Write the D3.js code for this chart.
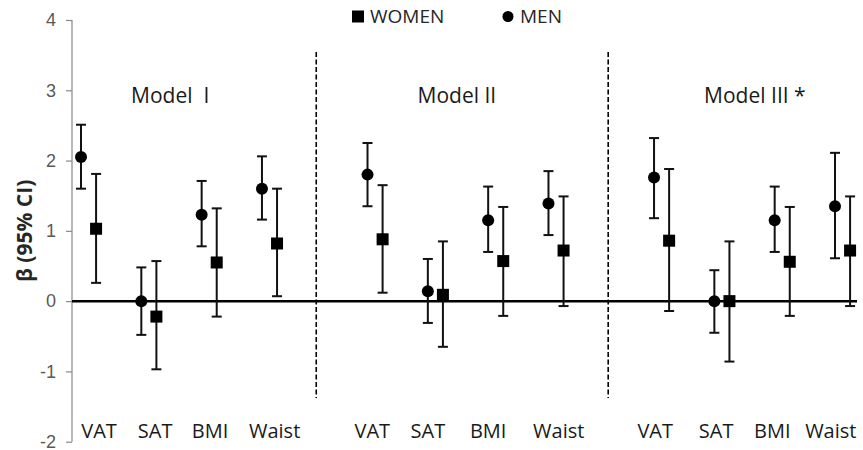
<!DOCTYPE html>
<html>
<head>
<meta charset="utf-8">
<script src="https://cdn.jsdelivr.net/npm/d3@7"></script>
<style>
    body { margin: 0; background: #fff; }
    svg { display: block; font-family: "Open Sans", sans-serif; }
    text { white-space: pre; }
</style>
</head>
<body>
<div id="chart"></div>
<script>
/* Beta (95% CI) by model, men vs women */

var models = ["Model  I", "Model II", "Model III *"];
var categories = ["VAT", "SAT", "BMI", "Waist"];
var yTicks = [-2, -1, 0, 1, 2, 3, 4];

// one value per model x category (Model I, Model II, Model III)
var menBeta = [2.05, 0.00, 1.23, 1.60, 1.80, 0.14, 1.15, 1.39, 1.76, 0.00, 1.15, 1.35];
var menLow = [1.60, -0.48, 0.78, 1.16, 1.35, -0.31, 0.70, 0.94, 1.18, -0.45, 0.70, 0.61];
var menHigh = [2.51, 0.48, 1.71, 2.06, 2.25, 0.60, 1.63, 1.85, 2.32, 0.44, 1.63, 2.11];

var womenBeta = [1.03, -0.22, 0.55, 0.82, 0.88, 0.09, 0.57, 0.72, 0.86, 0.00, 0.56, 0.72];
var womenLow = [0.26, -0.97, -0.22, 0.07, 0.12, -0.65, -0.21, -0.07, -0.14, -0.86, -0.21, -0.07];
var womenHigh = [1.81, 0.57, 1.32, 1.60, 1.65, 0.85, 1.34, 1.49, 1.88, 0.85, 1.34, 1.49];

window.ForestChart = (function () {

    function ForestChart() {
        this.w = 863;
        this.h = 450;
        this.groupStep = 4.75;   // slots between model groups
        this.womenShift = 0.25;  // women marker offset in slots
        // small nudges so the category text sits where the original had it
        this.labelNudge = [0.30, 0.23, 0.14, 0.21, 0.08, 0.0, 0.0, 0.17, 0.02, 0.03, -0.04, -0.07];
    }

    ForestChart.prototype.pos = function (i) {
        var g = Math.floor(i / categories.length);
        return g * this.groupStep + (i % categories.length);
    };

    ForestChart.prototype.init = function () {
        var app = this;

        var svg = d3.select("#chart")
            .append("svg")
            .attr("width", this.w)
            .attr("height", this.h);

        var x = d3.scaleLinear().domain([0, 12.5]).range([81, 835]);
        var y = d3.scaleLinear().domain([-2, 4]).range([441.7, 20]);

        // Y axis
        var yAxis = d3.axisLeft(y).tickValues(yTicks).tickSize(6).tickPadding(10)
            .tickFormat(function (d) { return String(d); });
        var ya = svg.append("g")
            .attr("transform", "translate(72,0)")
            .call(yAxis);
        ya.select(".domain").attr("stroke", "#898989").attr("stroke-width", 1.2)
            .attr("d", "M0," + y(4) + "V" + y(-2));
        ya.selectAll(".tick line").attr("stroke", "#898989").attr("stroke-width", 1.2);
        ya.selectAll(".tick text")
            .attr("fill", "#595959")
            .style("font-size", "18px")
            .attr("dy", "0.32em");

        svg.append("text")
            .attr("transform", "translate(32," + y(1.0) + ") rotate(-90)")
            .attr("text-anchor", "middle")
            .style("font-size", "21px")
            .style("font-weight", "bold")
            .attr("fill", "#262626")
            .text("β (95% CI)");

        // zero line
        svg.append("line")
            .attr("x1", 72).attr("x2", 857)
            .attr("y1", y(0)).attr("y2", y(0))
            .attr("stroke", "#000").attr("stroke-width", 2.5);

        // dashed separators between models
        [3.9, 8.74].forEach(function (d) {
            svg.append("line")
                .attr("x1", x(d)).attr("x2", x(d))
                .attr("y1", 52).attr("y2", 398)
                .attr("stroke", "#000").attr("stroke-width", 1.6)
                .attr("stroke-dasharray", "5,2.5");
        });

        // model titles
        svg.selectAll(".model-title")
            .data(models)
            .enter()
            .append("text")
            .attr("class", "model-title")
            .attr("x", function (d, i) { return x(i * app.groupStep + 0.83); })
            .attr("y", 103)
            .style("font-size", "21px")
            .attr("fill", "#1a1a1a")
            .text(function (d) { return d; });

        // category labels
        var idx = d3.range(models.length * categories.length);
        svg.selectAll(".cat-label")
            .data(idx)
            .enter()
            .append("text")
            .attr("class", "cat-label")
            .attr("x", function (i) { return x(app.pos(i) + app.labelNudge[i]); })
            .attr("y", 438)
            .attr("text-anchor", "middle")
            .style("font-size", "20px")
            .attr("fill", "#1a1a1a")
            .text(function (i) { return categories[i % categories.length]; });

        // series
        var series = [
            { name: "MEN", beta: menBeta, lo: menLow, hi: menHigh, shift: 0, shape: "circle" },
            { name: "WOMEN", beta: womenBeta, lo: womenLow, hi: womenHigh, shift: this.womenShift, shape: "square" }
        ];

        series.forEach(function (s) {
            var g = svg.append("g").attr("class", "series-" + s.name.toLowerCase());
            var cx = function (i) { return x(app.pos(i) + s.shift); };

            g.selectAll(".bar")
                .data(idx).enter().append("line")
                .attr("x1", cx).attr("x2", cx)
                .attr("y1", function (i) { return y(s.lo[i]); })
                .attr("y2", function (i) { return y(s.hi[i]); })
                .attr("stroke", "#111").attr("stroke-width", 2);

            ["lo", "hi"].forEach(function (k) {
                g.selectAll(".cap-" + k)
                    .data(idx).enter().append("line")
                    .attr("x1", function (i) { return cx(i) - 5; })
                    .attr("x2", function (i) { return cx(i) + 5; })
                    .attr("y1", function (i) { return y(s[k][i]); })
                    .attr("y2", function (i) { return y(s[k][i]); })
                    .attr("stroke", "#111").attr("stroke-width", 2);
            });

            if (s.shape === "circle") {
                g.selectAll(".pt")
                    .data(idx).enter().append("circle")
                    .attr("cx", cx)
                    .attr("cy", function (i) { return y(s.beta[i]); })
                    .attr("r", 6)
                    .attr("fill", "#000");
            } else {
                g.selectAll(".pt")
                    .data(idx).enter().append("rect")
                    .attr("x", function (i) { return cx(i) - 6; })
                    .attr("y", function (i) { return y(s.beta[i]) - 6; })
                    .attr("width", 12).attr("height", 12)
                    .attr("fill", "#000");
            }
        });

        // legend
        var legend = svg.append("g").attr("class", "legend");
        legend.append("rect")
            .attr("x", 352).attr("y", 10.5).attr("width", 12).attr("height", 12)
            .attr("fill", "#000");
        legend.append("text")
            .attr("x", 370).attr("y", 23)
            .style("font-size", "19px").attr("fill", "#262626")
            .text("WOMEN");
        legend.append("circle")
            .attr("cx", 508).attr("cy", 16.5).attr("r", 5.5)
            .attr("fill", "#000");
        legend.append("text")
            .attr("x", 520).attr("y", 23)
            .style("font-size", "19px").attr("fill", "#262626")
            .text("MEN");
    };

    return ForestChart;
})();

document.addEventListener("DOMContentLoaded", function () {
    window.App = new ForestChart();
    App.init();
});
</script>
</body>
</html>
